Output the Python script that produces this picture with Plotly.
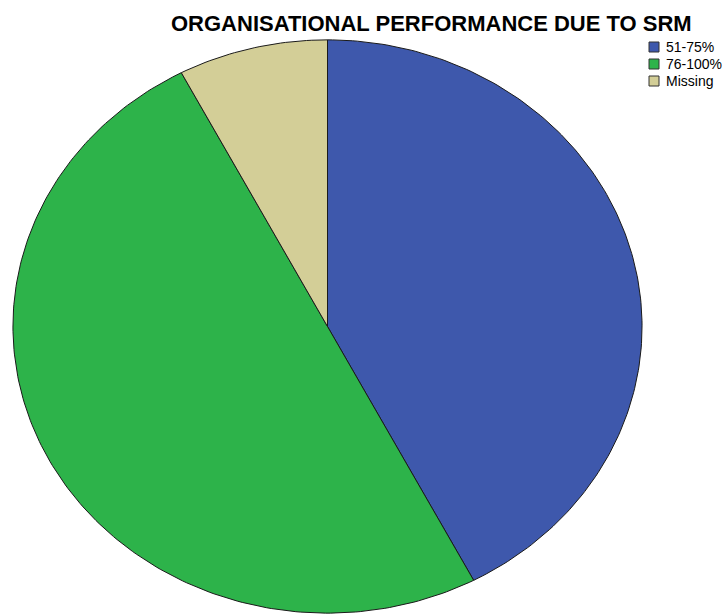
import numpy as np
import plotly.graph_objects as go

# Frequencies of organisational performance ratings attributed to SRM
categories = ["51-75%", "76-100%", "Missing"]
counts = [55, 65, 10]
colors = ["#3E58AC", "#2DB34A", "#D3CE97"]

title_text = "ORGANISATIONAL PERFORMANCE DUE TO SRM"

W, H = 725, 614
# pie ellipse bounds in pixels (left, right, top, bottom)
PX_L, PX_R, PX_T, PX_B = 12, 643, 39, 614

fig = go.Figure()

total = float(sum(counts))
start = 0.0
for name, val, col in zip(categories, counts, colors):
    frac0 = start / total
    frac1 = (start + val) / total
    start += val
    # slices run clockwise from 12 o'clock
    th = np.linspace(np.pi / 2 - 2 * np.pi * frac0,
                     np.pi / 2 - 2 * np.pi * frac1,
                     max(8, int(400 * (frac1 - frac0))))
    xs = np.concatenate([[0.0], np.cos(th), [0.0]])
    ys = np.concatenate([[0.0], np.sin(th), [0.0]])
    fig.add_trace(go.Scatter(
        x=xs, y=ys, mode="lines", fill="toself",
        fillcolor=col, line=dict(color="#1a1a1a", width=1),
        name=name, showlegend=False, hoverinfo="name",
    ))

# legend drawn as swatches plus labels
shapes = []
annotations = []
row0, row_step = 47, 17
for i, (name, col) in enumerate(zip(categories, colors)):
    yc = row0 + i * row_step
    shapes.append(dict(
        type="rect", xref="paper", yref="paper",
        x0=649 / W, x1=659 / W,
        y0=1 - (yc + 5) / H, y1=1 - (yc - 5) / H,
        fillcolor=col, line=dict(color="#333333", width=1),
    ))
    annotations.append(dict(
        text=name, xref="paper", yref="paper",
        x=664 / W, y=1 - yc / H, xanchor="left", yanchor="middle",
        showarrow=False,
        font=dict(family="Arial, Liberation Sans, sans-serif", size=14, color="#000000"),
    ))

annotations.append(dict(
    text="<b>" + title_text + "</b>", xref="paper", yref="paper",
    x=432 / W, y=1 - 23 / H, xanchor="center", yanchor="middle",
    showarrow=False,
    font=dict(family="Arial, Liberation Sans, sans-serif", size=22, color="#000000"),
))

fig.update_layout(
    width=W, height=H,
    margin=dict(l=0, r=0, t=0, b=0),
    paper_bgcolor="white", plot_bgcolor="white",
    shapes=shapes, annotations=annotations,
    xaxis=dict(range=[-1.003, 1.003], domain=[PX_L / W, PX_R / W],
               visible=False, fixedrange=True),
    yaxis=dict(range=[-1.003, 1.003], domain=[1 - PX_B / H, 1 - PX_T / H],
               visible=False, fixedrange=True),
    showlegend=False,
)

fig.write_html("out.html")
